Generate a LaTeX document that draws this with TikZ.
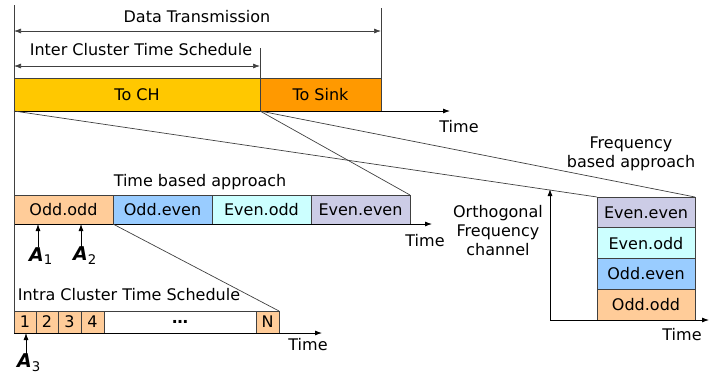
\documentclass[tikz,border=0pt]{standalone}
\usepackage{fontspec}
\setmainfont{DejaVu Sans}
\usepackage{tikz}
\usetikzlibrary{arrows.meta}
\usetikzlibrary{positioning}

\definecolor{chgold}{RGB}{255,200,0}
\definecolor{sinkorange}{RGB}{255,153,0}
\definecolor{oddodd}{RGB}{255,204,153}
\definecolor{oddeven}{RGB}{153,204,255}
\definecolor{evenodd}{RGB}{204,255,255}
\definecolor{eveneven}{RGB}{204,204,230}
\definecolor{linegray}{RGB}{64,64,64}

\tikzset{
  slot/.style={draw=linegray, line width=0.8pt, inner sep=0pt, outer sep=0pt,
    minimum height=#1, font=\fontsize{16}{18}\selectfont},
  axis/.style={draw=black, line width=0.8pt, -{Latex[length=7pt,width=5pt]}},
  guide/.style={draw=linegray, line width=0.7pt},
  lbl/.style={inner sep=0pt, font=\fontsize{16}{19}\selectfont},
  agent/.style={inner sep=0pt, font=\fontsize{19}{20}\selectfont\bfseries\itshape}
}

\begin{document}
\begin{tikzpicture}[x=1pt,y=-1pt]
  \useasboundingbox (0,0) rectangle (709,376);

  % inter cluster bar
  \node[slot=33pt, fill=chgold, minimum width=246pt, anchor=north west] (ch) at (14,78) {To CH};
  \node[slot=33pt, fill=sinkorange, minimum width=121pt, right=0pt of ch] (sink) {To Sink};

  % time based approach
  \node[slot=29pt, fill=oddodd, minimum width=99pt, anchor=north west] (oo) at (14,195) {Odd.odd};
  \node[slot=29pt, fill=oddeven, minimum width=99pt, right=0pt of oo] (oe) {Odd.even};
  \node[slot=29pt, fill=evenodd, minimum width=99pt, right=0pt of oe] (eo) {Even.odd};
  \node[slot=29pt, fill=eveneven, minimum width=99pt, right=0pt of eo] (ee) {Even.even};

  % intra cluster slots
  \node[slot=22pt, fill=oddodd, minimum width=22pt, anchor=north west] (s1) at (14,311) {1};
  \node[slot=22pt, fill=oddodd, minimum width=22pt, right=0pt of s1] (s2) {2};
  \node[slot=22pt, fill=oddodd, minimum width=23pt, right=0pt of s2] (s3) {3};
  \node[slot=22pt, fill=oddodd, minimum width=23pt, right=0pt of s3] (s4) {4};
  \node[slot=22pt, fill=white, minimum width=152pt, right=0pt of s4] (sdots) {\textbf{\dots}};
  \node[slot=22pt, fill=oddodd, minimum width=23pt, right=0pt of sdots] (sn) {N};

  % frequency based approach
  \node[slot=30.75pt, fill=oddodd, minimum width=98pt, anchor=south west] (foo) at (597,320) {Odd.odd};
  \node[slot=30.75pt, fill=oddeven, minimum width=98pt, above=0pt of foo] (foe) {Odd.even};
  \node[slot=30.75pt, fill=evenodd, minimum width=98pt, above=0pt of foe] (feo) {Even.odd};
  \node[slot=30.75pt, fill=eveneven, minimum width=98pt, above=0pt of feo] (fee) {Even.even};

  % axes
  \coordinate (t1) at (450,111);
  \coordinate (t2) at (432,224);
  \coordinate (t3) at (322,333);
  \coordinate (t4) at (709,320);
  \coordinate (f0) at (550,320);
  \coordinate (fy) at (550,189);
  \draw[axis] (ch.south west) -- (t1);
  \draw[axis] (oo.south west) -- (t2);
  \draw[axis] (s1.south west) -- (t3);
  \draw[axis] (f0) -- (t4);
  \draw[axis] (f0) -- (fy);
  \node[lbl] (time1) at (459,127) {Time};
  \node[lbl] (time2) at (425,241) {Time};
  \node[lbl] (time3) at (308,345) {Time};
  \node[lbl] (time4) at (682,335) {Time};

  % spans
  \coordinate (top) at (14,5);
  \coordinate (dtop) at (381,8);
  \coordinate (itop) at (260,48);
  \draw[guide] (top) -- (s1.north west);
  \draw[guide] (dtop) -- (sink.north east);
  \draw[guide] (itop) -- (sink.north west);
  \coordinate (dl) at (14,31);
  \coordinate (dr) at (381,31);
  \coordinate (il) at (14,66);
  \coordinate (ir) at (260,66);
  \draw[guide, {Latex[length=7pt,width=5pt]}-{Latex[length=7pt,width=5pt]}] (dl) -- (dr);
  \draw[guide, {Latex[length=7pt,width=5pt]}-{Latex[length=7pt,width=5pt]}] (il) -- (ir);
  \node[lbl] (dtx) at (197,17) {Data Transmission};
  \node[lbl] (icts) at (141,50) {Inter Cluster Time Schedule};

  % zoom lines
  \draw[guide] (ch.south west) -- (fee.north west);
  \draw[guide] (sink.south west) -- (fee.north east);
  \draw[guide] (sink.south west) -- (ee.north east);
  \draw[guide] (oo.south east) -- (sn.north east);

  \node[lbl] (tba) at (200,182) {Time based approach};
  \node[lbl] (intra) at (129,295) {Intra Cluster Time Schedule};
  \node[lbl, align=center] (fba) at (631,154) {Frequency\\based approach};
  \node[lbl, align=center] (ofc) at (498,231) {Orthogonal\\Frequency\\channel};

  % agents
  \node[agent] (a1) at (41,256) {A\textsubscript{\normalfont\upshape 1}};
  \node[agent] (a2) at (85,256) {A\textsubscript{\normalfont\upshape 2}};
  \node[agent] (a3) at (29,363) {A\textsubscript{\normalfont\upshape 3}};
  \coordinate (p1) at (38,224);
  \coordinate (p2) at (81,224);
  \coordinate (p3) at (26,333);
  \draw[axis] (p1 |- a1.north) -- (p1);
  \draw[axis] (p2 |- a2.north) -- (p2);
  \draw[axis] (p3 |- a3.north) -- (p3);
\end{tikzpicture}
\end{document}
